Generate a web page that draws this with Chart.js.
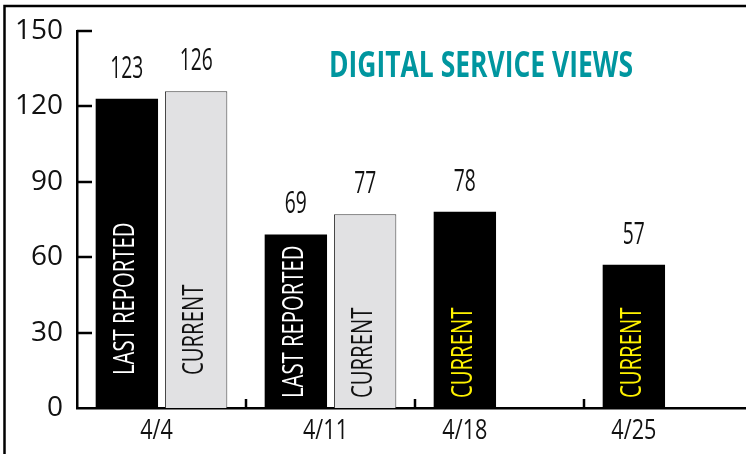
<!DOCTYPE html>
<html>
<head>
<meta charset="utf-8">
<script src="https://cdn.jsdelivr.net/npm/chart.js@4"></script>
<style>
  html, body { margin: 0; padding: 0; background: #fff; overflow: hidden; }
  #wrap { width: 746px; height: 454px; overflow: hidden; }
</style>
</head>
<body>
<div id="wrap"><canvas id="myChart" width="754" height="454"></canvas></div>
<script>
// chart values
const categories = ['4/4', '4/11', '4/18', '4/25'];
const firstBars = [123, 69, 78, 57];
const secondBars = [126, 77, null, null];
const firstBarText = ['LAST REPORTED', 'LAST REPORTED', 'CURRENT', 'CURRENT'];
const secondBarText = ['CURRENT', 'CURRENT', null, null];
const yTicks = [0, 30, 60, 90, 120, 150];
const chartTitle = 'DIGITAL SERVICE VIEWS';

const FONT = "'Open Sans', 'Noto Sans', sans-serif";

// draws text squeezed horizontally (the original uses a condensed face)
function squeezeText(ctx, text, x, y, font, color, sx, align) {
    ctx.save();
    ctx.font = font;
    ctx.fillStyle = color;
    ctx.textAlign = align || 'center';
    ctx.textBaseline = 'alphabetic';
    ctx.translate(x, y);
    ctx.scale(sx, 1);
    ctx.fillText(text, 0, 0);
    ctx.restore();
}

const decorations = {
    id: 'decorations',
    beforeDraw(chart) {
        const ctx = chart.ctx;
        // frame (top + left only, picture is cropped)
        ctx.save();
        ctx.strokeStyle = '#000';
        ctx.lineWidth = 2.5;
        ctx.beginPath();
        ctx.moveTo(4.5, 460);
        ctx.lineTo(4.5, 6);
        ctx.lineTo(chart.width, 6);
        ctx.stroke();
        ctx.restore();
    },
    afterDatasetsDraw(chart) {
        const ctx = chart.ctx;
        const x = chart.scales.x;
        const y = chart.scales.y;
        const area = chart.chartArea;
        const m0 = chart.getDatasetMeta(0).data;
        const m1 = chart.getDatasetMeta(1).data;

        // inward y ticks
        ctx.save();
        ctx.strokeStyle = '#000';
        ctx.lineWidth = 2.5;
        yTicks.forEach(v => {
            if (v === 0) return;
            const py = Math.round(y.getPixelForValue(v));
            ctx.beginPath();
            ctx.moveTo(area.left, py);
            ctx.lineTo(area.left + 15, py);
            ctx.stroke();
        });
        // small upward ticks between categories
        for (let i = 1; i < categories.length; i++) {
            const px = Math.round((x.getPixelForValue(i - 1) + x.getPixelForValue(i)) / 2);
            ctx.beginPath();
            ctx.moveTo(px, area.bottom);
            ctx.lineTo(px, area.bottom - 9);
            ctx.stroke();
        }
        ctx.restore();

        // values above bars
        [[firstBars, m0], [secondBars, m1]].forEach(([vals, bars]) => {
            vals.forEach((v, i) => {
                if (v == null) return;
                squeezeText(ctx, String(v), bars[i].x, bars[i].y - 21, '31px ' + FONT, '#111', 0.62);
            });
        });

        // rotated text inside bars
        const lift = i => (i === 0 ? 33 : 10);
        const inner = (text, bar, i, color) => {
            ctx.save();
            ctx.font = '29px ' + FONT;
            ctx.fillStyle = color;
            ctx.textAlign = 'left';
            ctx.textBaseline = 'alphabetic';
            ctx.translate(bar.x + 7, area.bottom - lift(i));
            ctx.rotate(-Math.PI / 2);
            ctx.scale(0.7, 1);
            ctx.fillText(text, 0, 0);
            ctx.restore();
        };
        firstBarText.forEach((t, i) => {
            if (!t) return;
            inner(t, m0[i], i, t === 'CURRENT' ? '#fff200' : '#fff');
        });
        secondBarText.forEach((t, i) => {
            if (!t) return;
            inner(t, m1[i], i, '#111');
        });

        // x labels: under the pair, or under the single bar
        categories.forEach((c, i) => {
            const px = secondBars[i] == null ? m0[i].x : x.getPixelForValue(i) - 5;
            squeezeText(ctx, c, px, area.bottom + 31, '27px ' + FONT, '#111', 0.8);
        });

        // title
        ctx.save();
        ctx.font = 'bold 35px ' + FONT;
        ctx.fillStyle = '#00969f';
        ctx.textAlign = 'left';
        ctx.textBaseline = 'alphabetic';
        ctx.fillText(chartTitle, 329, 77, 304);
        ctx.restore();
    }
};

const ctx = document.getElementById('myChart');
const myChart = new Chart(ctx, {
    type: 'bar',
    data: {
        labels: categories,
        datasets: [{
            label: 'first',
            data: firstBars,
            backgroundColor: '#000',
            borderWidth: 0
        }, {
            label: 'second',
            data: secondBars,
            backgroundColor: '#e1e1e3',
            borderColor: '#3a3a3a',
            borderWidth: 1
        }]
    },
    options: {
        responsive: false,
        animation: false,
        devicePixelRatio: 1,
        categoryPercentage: 0.82,
        barPercentage: 0.9,
        layout: { padding: { top: 28, right: 1, left: 0, bottom: 0 } },
        plugins: {
            legend: { display: false },
            tooltip: { enabled: false }
        },
        scales: {
            x: {
                grid: { display: false },
                border: { display: true, color: '#000', width: 2.5 },
                ticks: { display: false },
                afterFit(scale) { scale.height = 46; }
            },
            y: {
                min: 0,
                max: 150,
                afterBuildTicks(scale) { scale.ticks = yTicks.map(v => ({ value: v })); },
                grid: { display: false, drawTicks: false },
                border: { display: true, color: '#000', width: 2.5 },
                ticks: {
                    padding: 14,
                    color: '#111',
                    font: { family: FONT, size: 28 }
                },
                afterFit(scale) { scale.width = 77; }
            }
        }
    },
    plugins: [decorations]
});
</script>
</body>
</html>
